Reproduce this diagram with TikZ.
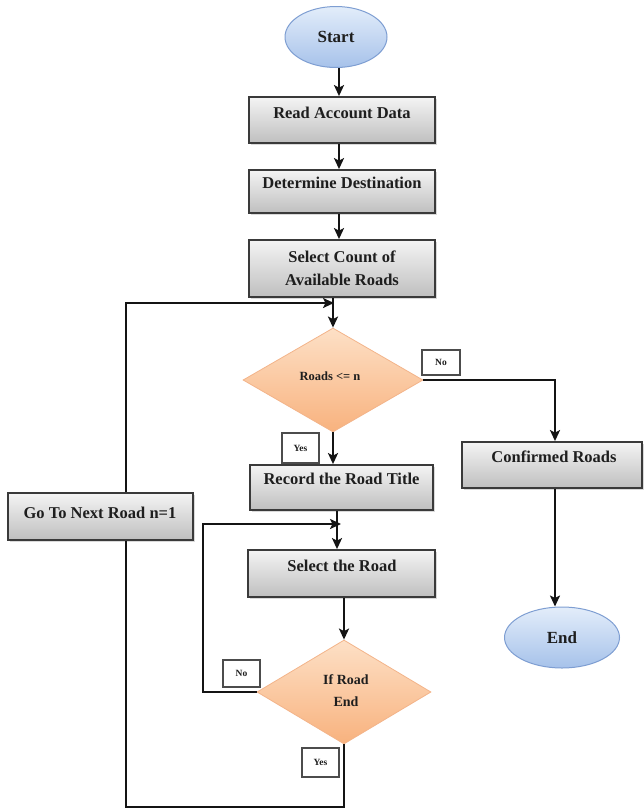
\documentclass[tikz,border=0pt]{standalone}
\usepackage{fontspec}
\setmainfont{Liberation Serif}
\usetikzlibrary{shapes.geometric,arrows.meta,calc,shadows}
\definecolor{boxtop}{HTML}{F4F4F4}
\definecolor{boxbot}{HTML}{BFBFBF}
\definecolor{boxline}{HTML}{3A3A3A}
\definecolor{peachtop}{HTML}{FDE0C6}
\definecolor{peachbot}{HTML}{F8B27E}
\definecolor{peachline}{HTML}{F3B48A}
\definecolor{bluetop}{HTML}{E3EDFA}
\definecolor{bluebot}{HTML}{A6C2EA}
\definecolor{blueline}{HTML}{7E9ED2}
\definecolor{txtc}{HTML}{1E1E1E}
\definecolor{wire}{HTML}{141414}
\begin{document}
\begin{tikzpicture}[x=1pt,y=1pt,
  procbox/.style={rectangle, draw=boxline, line width=1.8pt, top color=boxtop, bottom color=boxbot,
    inner sep=0pt, drop shadow={shadow xshift=1.5pt, shadow yshift=-1.5pt, opacity=0.3}},
  decbox/.style={diamond, draw=peachline, line width=0.8pt, top color=peachtop, bottom color=peachbot,
    inner sep=0pt},
  termbox/.style={ellipse, draw=blueline, line width=1pt, top color=bluetop, bottom color=bluebot,
    inner sep=0pt, text=txtc, font=\bfseries\fontsize{17}{20}\selectfont},
  labbox/.style={rectangle, draw=gray!60!black, line width=1.2pt, fill=white, inner sep=0pt,
    text=txtc, font=\bfseries\fontsize{9.5}{11}\selectfont,
    drop shadow={shadow xshift=1pt, shadow yshift=-1pt, opacity=0.3}},
  txt/.style={text=txtc, align=center, inner sep=0pt, font=\bfseries\fontsize{16.5}{23}\selectfont},
  dtxt/.style={text=txtc, align=center, inner sep=0pt, font=\bfseries\fontsize{14}{22}\selectfont},
  wireline/.style={draw=wire, line width=2.6pt},
  arr/.style={wireline, -{Stealth[length=11pt,width=10pt,inset=2.5pt]}}
]
\useasboundingbox (0,0) rectangle (644,-809);

% terminals
\node[termbox, minimum width=102, minimum height=61] (start) at (336,-37) {Start};
\node[termbox, minimum width=115, minimum height=61] (endn) at (562,-637.5) {End};

% process boxes
\node[procbox, minimum width=186, minimum height=46] (b1) at (342,-120) {};
\node[txt] (b1t) at (342,-113) {Read Account Data};
\node[procbox, minimum width=186, minimum height=43] (b2) at (342,-191.5) {};
\node[txt] (b2t) at (342,-183) {Determine Destination};
\node[procbox, minimum width=186, minimum height=57] (b3) at (342,-268.5) {};
\node[txt] (b3t) at (342,-268.5) {Select Count of\\Available Roads};
\node[procbox, minimum width=183, minimum height=45] (rec) at (341.5,-487.5) {};
\node[txt] (rect) at (341.5,-479) {Record the Road Title};
\node[procbox, minimum width=187, minimum height=47] (sel) at (341.5,-573.5) {};
\node[txt] (selt) at (342,-566) {Select the Road};
\node[procbox, minimum width=180, minimum height=46] (conf) at (552,-465) {};
\node[txt] (conft) at (554,-457) {Confirmed Roads};
\node[procbox, minimum width=185, minimum height=47] (go) at (100.5,-516.5) {};
\node[txt] (got) at (100,-513) {Go To Next Road n=1};

% decisions
\node[decbox, minimum width=180, minimum height=104] (d1) at (333,-380) {};
\node[dtxt, font=\bfseries\fontsize{12.5}{15}\selectfont] (d1t) at (330,-376) {Roads <= n};
\node[decbox, minimum width=174, minimum height=104] (d2) at (344,-692) {};
\node[dtxt] (d2t) at (346,-691) {If Road\\End};

% helper coordinates
\coordinate (axA) at (339,0);
\coordinate (axB) at (337,0);
\coordinate (axR) at (555,0);
\coordinate (gx) at (126,0);
\coordinate (j1) at (334,-303);
\coordinate (nL) at (203,-524);
\coordinate (j2) at (341,-524);
\coordinate (bL) at (126,-807);

% connectors
\draw[arr] (start.south -| axA) -- (b1.north -| axA);
\draw[arr] (b1.south -| axA) -- (b2.north -| axA);
\draw[arr] (b2.south -| axA) -- (b3.north -| axA);
\draw[arr] (b3.south -| d1.north) -- (d1.north);
\draw[arr] (go.north -| gx) |- (j1);
\draw[arr] (d1.south) -- (rec.north -| d1.south);
\draw[arr] (d1.east) -| (conf.north -| axR);
\draw[arr] (conf.south -| axR) -- (endn.north -| axR);
\draw[arr] (rec.south -| axB) -- (sel.north -| axB);
\draw[arr] (d2.west) -| (nL) -- (j2);
\draw[arr] (sel.south -| d2.north) -- (d2.north);
\draw[wireline] (d2.south) |- (bL) -- (go.south -| bL);

% yes / no labels
\node[labbox, minimum width=37, minimum height=30] (yes1) at (300.5,-448) {Yes};
\node[labbox, minimum width=38, minimum height=25] (no1) at (441,-362.5) {No};
\node[labbox, minimum width=37, minimum height=27] (no2) at (241.5,-673.5) {No};
\node[labbox, minimum width=37, minimum height=29] (yes2) at (320.5,-762.5) {Yes};
\end{tikzpicture}
\end{document}
